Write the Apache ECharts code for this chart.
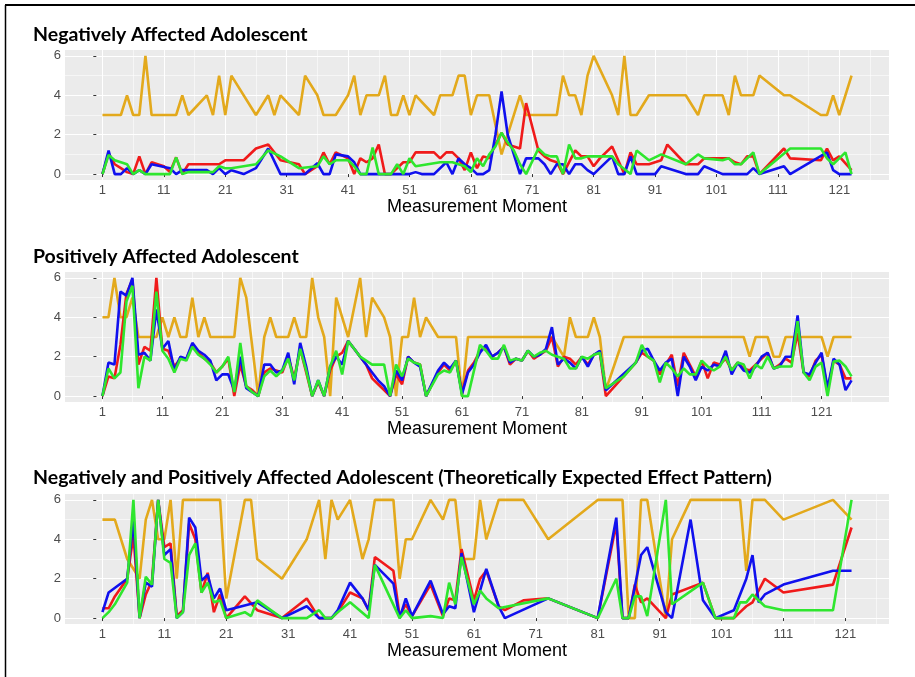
<!DOCTYPE html>
<html>
<head>
<meta charset="utf-8">
<script src="https://cdn.jsdelivr.net/npm/echarts@6/dist/echarts.min.js"></script>
<style>
html,body{margin:0;padding:0;background:#fff;}
#chart{width:915px;height:677px;}
</style>
</head>
<body>
<div id="chart"></div>
<script>
// ---- Panel titles / labels ----
const panelTitles = [
  'Negatively Affected Adolescent',
  'Positively Affected Adolescent',
  'Negatively and Positively Affected Adolescent (Theoretically Expected Effect Pattern)'
];
const xAxisTitle = 'Measurement Moment';
const xTickLabels = [1, 11, 21, 31, 41, 51, 61, 71, 81, 91, 101, 111, 121];
const xMinorTicks = [6, 16, 26, 36, 46, 56, 66, 76, 86, 96, 106, 116, 126];
const yTickLabels = [0, 2, 4, 6];
const yMinorTicks = [1, 3, 5];
const seriesNames = ['orange', 'red', 'blue', 'green'];
const seriesColors = ['#E3A91C', '#F01A1A', '#1010EE', '#2EE62E'];

// ---- Panel 1: Negatively Affected Adolescent (123 moments) ----
const p1Orange = [
  3,3,3,3,4,3,3,6,3,3,
  3,3,3,4,3,null,null,4,3,5,
  3,5,null,null,null,3,null,4,3,4,
  null,null,3,5,null,4,3,3,3,null,
  4,5,3,4,4,4,5,3,3,4,
  3,4,null,null,3,4,4,4,5,5,
  3,4,4,4,null,1,null,null,4,3,
  3,3,3,3,3,5,4,4,3,5,
  6,null,null,4,3,6,3,3,null,4,
  4,4,4,4,4,4,null,3,4,4,
  4,4,3,5,4,4,4,5,null,null,
  null,4,4,null,null,null,null,3,3,4,
  3,null,5];
const p1Red = [
  0,1.05,0.5,0.3,0.1,0,0.9,0,0.6,0.5,
  0.4,0.1,0.85,0,0.5,0.5,0.5,0.5,0.5,0.5,
  0.7,0.7,0.7,0.7,null,1.3,null,1.5,null,0.7,
  null,null,0.5,0,null,0.4,1.1,0.5,1.1,null,
  0.8,0,0.8,0.6,0.8,1.5,0,0,0.3,0.6,
  0.6,1.1,null,null,1.1,0.8,1.1,1.1,0.8,0.2,
  1.1,0.3,0.9,0.8,1.5,2.1,1.5,null,1.3,3.6,
  null,1.2,0.9,0.7,0.6,0,null,1.2,0.9,0.9,
  0.4,0.8,null,1.4,null,0,1.1,0.5,null,0.5,
  null,0.7,1.5,null,null,0.5,null,0.5,0.8,null,
  null,0.8,0.8,0.6,0.5,0.9,0.9,0,null,null,
  null,1.3,0.8,null,null,null,null,0.7,1.3,0.7,
  0.9,null,0.2];
const p1Blue = [
  0,1.2,0,0,0.3,0,0.2,0,0.5,null,
  null,0.3,0,0.2,0.2,0.2,0.2,0.2,0,0.3,
  0,0.2,null,0,null,0.3,null,1.3,null,0,
  0,0,0,0,null,0.55,0,0,1.0,null,
  0.9,0.6,0,0,0,0,0,0,0,0,
  0,0.1,0,0,0,null,0.6,0,0.8,0.5,
  0.3,0,0,0.2,2.0,4.2,2.0,null,0,0.8,
  0.8,0.8,0.5,0,0.5,0.5,0,0.5,0.5,0.2,
  0,0.3,null,0.9,0,0,0.9,0,0,0,
  0,0.4,null,null,null,0,0,0,0.4,null,
  null,0,0,0,0,0,0.3,0,null,null,
  null,0.4,0,null,null,null,null,null,1.1,0.2,
  0,0,0];
const p1Green = [
  0,0.97,0.7,0.6,0.5,0,0.2,0,0,0,
  0,0,0.85,0,0.1,0.1,0.1,0.1,0.1,0.4,
  0.3,0.3,null,null,null,0.5,null,1.2,null,0.9,
  null,null,0.3,null,null,0.4,0.9,0.5,0.7,null,
  0.7,0.4,0,0,1.35,0,0,0,0.5,0,
  0.8,0.4,null,null,null,0.6,null,0.6,null,0.4,
  0.1,0.8,0.4,1.0,1.4,2.1,1.6,1.2,0.5,0,
  null,1.3,1.0,0.9,0.9,0,1.5,0.8,0.8,0.9,
  null,0.9,null,0.9,0.5,null,0,1.2,null,0.7,
  null,1.0,null,null,null,0.5,null,1.0,0.8,null,
  null,0.7,0.8,0.5,0.5,null,1.1,0,null,null,
  null,null,1.3,1.3,1.3,1.3,1.3,1.3,0.8,0.5,
  0.8,1.1,0];

// ---- Panel 2: Positively Affected Adolescent (126 moments) ----
const p2Orange = [
  4,4,6,4,4,5,3,3,3,3,
  4,3,4,3,3,5,3,4,3,3,
  3,3,3,6,5,null,0,3,4,3,
  3,3,4,3,3,6,4,3,0,5,
  null,3,null,6,3,5,4.5,4,3,0,
  3,3,5,3,4,null,3,3,3,3,
  0,3,3,3,3,3,3,3,3,3,
  3,3,3,3,3,3,null,2,4,3,
  3,3,4,3,0.3,null,null,3,3,3,
  3,3,3,3,3,3,3,3,3,3,
  3,3,3,3,3,3,3,3,2,3,
  3,3,2,2,3,3,3,3,3,3,
  3,2,3,3,3,3];
const p2Red = [
  0,1.0,0.9,2.6,5.2,5.9,1.6,2.5,2.3,6.0,
  2.4,2.3,1.5,1.9,1.9,2.6,2.2,1.9,1.7,1.2,
  1.5,1.9,0,1.6,0.5,0.3,0,1.2,1.4,1.3,
  1.2,2.0,0.9,2.4,1.2,0,0.7,0,1.3,2.0,
  2.2,2.8,2.4,2.0,1.6,0.9,0.6,0.3,0,1.1,
  0.6,2.0,1.7,1.6,0,null,1.2,1.6,1.3,1.8,
  0.2,1.3,1.7,2.3,2.5,2.0,2.2,2.5,1.6,1.9,
  1.8,2.3,1.9,2.1,2.3,3.0,1.5,2.0,1.9,1.6,
  2.0,1.6,2.1,2.2,0,null,null,null,null,1.7,
  2.2,2.0,1.8,1.1,1.6,2.1,0.5,2.2,1.6,1.0,
  1.8,0.9,1.7,1.6,1.9,1.3,1.7,1.4,1.3,1.6,
  1.9,2.2,1.4,1.6,1.9,1.7,3.2,1.2,1.0,1.8,
  2.1,0.3,1.8,1.6,0.9,0.9];
const p2Blue = [
  0,1.7,1.6,5.3,5.1,6.0,2.1,2.2,1.8,4.4,
  2.4,2.8,1.3,2.0,1.9,2.7,2.3,2.1,1.8,0.8,
  1.1,1.1,0.3,2.0,0.4,0.2,0,1.6,1.6,1.2,
  1.3,2.2,0.6,2.7,1.5,0,0.8,0,1.5,2.0,
  1.6,2.8,2.4,2.0,1.6,1.2,0.8,0.5,0,1.3,
  0.8,2.0,1.7,1.5,0,null,1.3,1.7,1.4,1.8,
  0.1,1.2,1.6,2.2,2.6,2.0,2.2,2.5,1.7,1.9,
  1.8,2.3,2.0,2.1,2.4,3.5,1.6,1.9,1.7,1.4,
  2.0,1.5,2.1,2.3,0.3,null,null,null,null,1.7,
  2.3,2.4,1.8,1.3,1.7,1.9,0,2.0,1.5,0.8,
  1.5,1.3,1.6,1.5,2.3,1.1,1.7,1.3,1.2,1.5,
  2.0,2.2,1.4,1.5,2.0,2.0,4.1,1.2,1.1,1.7,
  2.2,0.4,1.9,1.6,0.3,0.8];
const p2Green = [
  0,1.4,0.9,1.2,4.8,5.6,0.4,2.0,1.8,5.3,
  2.3,1.9,1.2,1.9,1.8,2.5,2.1,1.9,1.6,1.2,
  1.5,2.0,0.2,2.7,0.5,0.2,0,1.0,1.3,1.0,
  1.3,1.9,0.8,2.4,1.3,0,0.8,0,1.5,2.3,
  1.1,2.8,2.4,2.0,1.8,1.6,1.6,1.6,0,1.6,
  1.0,1.9,1.7,1.6,0,null,1.1,1.3,1.2,1.8,
  0,0,null,2.6,2.3,1.9,1.9,2.6,1.8,1.9,
  1.8,2.3,2.0,2.2,2.3,2.1,2.0,1.9,1.4,1.4,
  2.0,1.9,2.1,2.2,0.4,null,null,1.0,null,1.7,
  2.6,2.0,1.8,0.7,1.7,1.4,1.0,1.4,1.1,1.1,
  1.8,1.5,1.3,1.5,2.0,1.3,1.7,1.6,0.9,1.6,
  1.4,2.0,1.4,1.5,1.5,1.5,3.8,1.2,0.8,1.5,
  1.7,0,1.75,1.8,1.5,1.0];

// ---- Panel 3: Negatively and Positively Affected Adolescent (122 moments) ----
const p3Orange = [
  5,5,5,null,3,null,2,5,6,4,
  4,6,2,6,6,6,6,6,6,6,
  1,null,null,6,6,3,null,null,null,2,
  null,null,null,4,null,6,3,6,5,null,
  6,null,3,4,6,6,6,6,2,4,
  4,null,null,6,null,5,6,6,3,3,
  3,6,4,null,6,6,6,6,6,null,
  null,null,4,null,null,null,null,null,null,null,
  6,6,6,6,6,0,0,6,6,null,
  null,0,4,null,null,6,6,6,6,6,
  6,6,6,6,2.4,6,6,6,null,null,
  5,null,null,null,null,null,null,null,6,null,
  null,5];
const p3Red = [
  0.5,0.5,1.1,null,2.0,4.2,0,1.2,1.9,6.0,
  3.6,3.8,0.1,0.4,4.8,4.0,1.3,2.3,0.3,1.2,
  0,null,null,1.1,null,0.4,null,null,null,0,
  null,null,null,1.0,null,0,null,0,0.3,null,
  1.3,null,1.0,0.4,3.1,null,null,2.4,0.1,0.7,
  0.1,null,null,1.7,null,0.1,1.0,0.9,3.5,null,
  0.9,2.0,2.4,null,0.6,0.4,null,null,0.9,null,
  null,null,1.0,null,null,null,null,null,null,null,
  0,null,null,4.8,0,0,1.7,0.8,1.0,null,
  null,0,1.2,null,null,null,null,1.8,null,0,
  null,null,0,0.3,0.6,0.8,null,2.0,null,null,
  1.3,null,null,null,null,null,null,null,1.7,null,
  null,4.6];
const p3Blue = [
  0.3,1.3,null,null,2.0,5.0,0,1.8,1.6,6.0,
  3.2,3.5,0,0.3,5.1,4.6,1.9,2.2,1.0,1.5,
  0.4,null,null,null,null,0.8,null,null,null,0,
  null,null,null,0.6,null,0,null,0,0.4,null,
  1.8,null,1.0,0.4,2.7,null,null,1.75,0,1.0,
  0.1,null,null,1.9,null,0.2,0.6,0.5,3.3,null,
  0.3,null,2.5,null,0.6,0,null,null,null,null,
  null,null,1.0,null,null,null,null,null,null,null,
  0,null,null,5.1,0,0,null,3.2,3.6,null,
  null,0.3,0,null,null,5.0,null,0.9,null,0,
  null,null,0.4,null,2.0,3.2,0.8,1.2,null,null,
  1.7,null,null,null,null,null,null,null,2.4,null,
  null,2.4];
const p3Green = [
  0,0.3,0.7,null,1.8,6.0,0,2.1,1.7,6.0,
  3.0,2.8,0,0.3,3.2,3.8,1.3,1.8,0.8,0.9,
  0,null,null,0.3,0.1,0.9,null,null,null,0,
  null,null,null,0,null,0.4,0,0,0.3,null,
  0.8,null,null,0,2.7,null,null,null,0,0.4,
  0,null,null,0.1,null,0,1.8,0.7,3.1,null,
  0.7,1.4,1.0,null,0.5,null,null,null,null,null,
  null,null,1.0,null,null,null,null,null,null,null,
  0,null,null,2.0,0,0,1.1,1.1,0.1,null,
  null,6.0,0.7,null,null,null,null,1.8,null,0,
  null,null,0,0.8,0.8,1.2,null,0.6,null,null,
  0.4,null,null,null,null,null,null,null,0.4,null,
  null,6.0];

// ---- build ----
const panels = [
  [p1Orange, p1Red, p1Blue, p1Green],
  [p2Orange, p2Red, p2Blue, p2Green],
  [p3Orange, p3Red, p3Blue, p3Green]
];
const gridTops = [50, 272, 494];
const gridLeft = 65, gridWidth = 824, gridHeight = 130;
const titleTops = [25, 247, 468];

function toPoints(arr) {
  const out = [];
  arr.forEach(function (v, i) { if (v !== null) out.push([i + 1, v]); });
  return out;
}

const grids = [], xAxes = [], yAxes = [], series = [], graphics = [];
panels.forEach(function (lines, p) {
  const n = lines[0].length;
  const pad = 0.05 * (n - 1);
  grids.push({ left: gridLeft, top: gridTops[p], width: gridWidth, height: gridHeight,
    show: true, backgroundColor: '#EBEBEB', borderWidth: 0 });
  xAxes.push({
    type: 'value', gridIndex: p, min: 1 - pad, max: n + pad,
    axisLine: { show: false },
    axisTick: { show: true, customValues: xTickLabels, length: 3, lineStyle: { color: '#333333', width: 1 } },
    axisLabel: { customValues: xTickLabels, color: '#4D4D4D', fontSize: 13, fontFamily: 'Liberation Sans', margin: 4 },
    splitLine: { show: true, lineStyle: { color: '#FFFFFF', width: 1.1 } },
    name: xAxisTitle, nameLocation: 'middle', nameGap: 18,
    nameTextStyle: { fontSize: 18, color: '#000000', fontFamily: 'Liberation Sans' }
  });
  xAxes.push({
    type: 'value', gridIndex: p, min: 1 - pad, max: n + pad,
    axisLine: { show: false },
    axisTick: { show: false, customValues: xMinorTicks },
    axisLabel: { show: false, customValues: xMinorTicks },
    splitLine: { show: true, lineStyle: { color: '#FFFFFF', width: 0.55 } }
  });
  yAxes.push({
    type: 'value', gridIndex: p, min: -0.3, max: 6.3,
    axisLine: { show: false },
    axisTick: { show: true, customValues: yTickLabels, length: 3, lineStyle: { color: '#333333', width: 1 } },
    axisLabel: { customValues: yTickLabels, color: '#4D4D4D', fontSize: 13, fontFamily: 'Liberation Sans', margin: 4 },
    splitLine: { show: true, lineStyle: { color: '#FFFFFF', width: 1.1 } }
  });
  yAxes.push({
    type: 'value', gridIndex: p, min: -0.3, max: 6.3,
    axisLine: { show: false },
    axisTick: { show: false, customValues: yMinorTicks },
    axisLabel: { show: false, customValues: yMinorTicks },
    splitLine: { show: true, lineStyle: { color: '#FFFFFF', width: 0.55 } }
  });
  lines.forEach(function (arr, k) {
    series.push({
      type: 'line', name: seriesNames[k] + (p + 1),
      xAxisIndex: 2 * p, yAxisIndex: 2 * p,
      data: toPoints(arr), showSymbol: false, symbol: 'none',
      lineStyle: { color: seriesColors[k], width: 2.6 },
      itemStyle: { color: seriesColors[k] },
      emphasis: { disabled: true }, animation: false, clip: true
    });
  });
  graphics.push({
    type: 'text', left: 33, top: titleTops[p],
    style: { text: panelTitles[p], font: 'bold 19.5px Lato', fill: '#000000' }
  });
});
graphics.push({ type: 'line', shape: { x1: 5, y1: 5, x2: 915, y2: 5 }, style: { stroke: '#000', lineWidth: 2 } });
graphics.push({ type: 'line', shape: { x1: 5.5, y1: 5, x2: 5.5, y2: 677 }, style: { stroke: '#000', lineWidth: 1.5 } });

const chart = echarts.init(document.getElementById('chart'), null, { renderer: 'canvas' });
chart.setOption({
  animation: false,
  backgroundColor: '#FFFFFF',
  grid: grids, xAxis: xAxes, yAxis: yAxes, series: series, graphic: graphics
});
</script>
</body>
</html>
